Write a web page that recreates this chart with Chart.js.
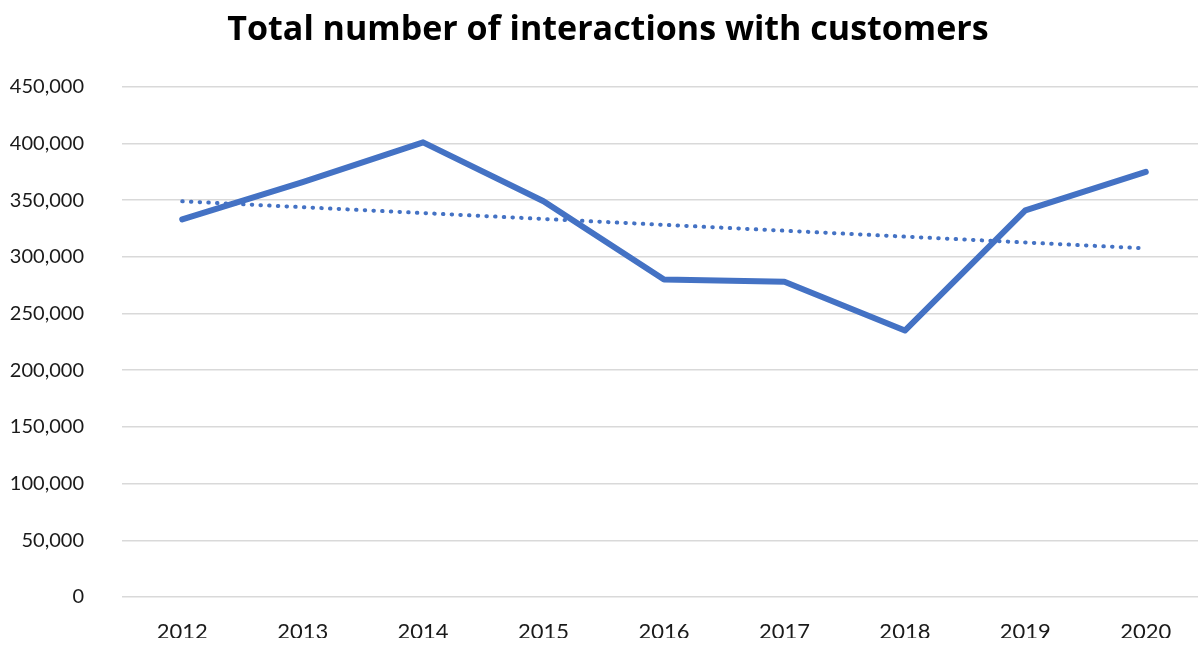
<!DOCTYPE html>
<html>
<head>
<meta charset="utf-8">
<script src="https://cdn.jsdelivr.net/npm/chart.js@4/dist/chart.umd.min.js"></script>
<style>
  html, body { margin: 0; padding: 0; background: #fff; overflow: hidden; }
  /* 원본처럼 마지막 카테고리 칸이 오른쪽 끝에서 조금 잘리도록 캔버스를 약간 넓게 */
  #wrap { width: 1206px; height: 647px; }
</style>
</head>
<body>
<div id="wrap"><canvas id="chart"></canvas></div>
<script>
// 연도
const years = ['2012', '2013', '2014', '2015', '2016', '2017', '2018', '2019', '2020'];
// 고객 상호작용 총 건수
const interactions = [333000, 366000, 401000, 349000, 280000, 278000, 235000, 341000, 375000];
// 추세선: 양 끝 값만 읽어서 직선으로 연결
const trend = [349000, null, null, null, null, null, null, null, 307500];

const blue = '#4472c4';
const ctx = document.getElementById('chart').getContext('2d');

new Chart(ctx, {
  type: 'line',
  data: {
    labels: years,
    datasets: [
      {
        label: 'Interactions',
        data: interactions,
        borderColor: blue,
        borderWidth: 6,
        pointRadius: 0,
        tension: 0,
        borderJoinStyle: 'round',
        borderCapStyle: 'round',
        fill: false,
      },
      {
        label: 'Trend',
        data: trend,
        spanGaps: true,
        borderColor: blue,
        borderWidth: 4,
        borderDash: [0.5, 8.2],
        borderCapStyle: 'round',
        pointRadius: 0,
        tension: 0,
        fill: false,
      }
    ]
  },
  options: {
    responsive: true,
    maintainAspectRatio: false,
    animation: false,
    layout: { padding: { left: 10, right: 0, top: 0, bottom: 2 } },
    plugins: {
      legend: { display: false },
      tooltip: { enabled: false },
      title: {
        display: true,
        text: 'Total number of interactions with customers',
        color: '#000',
        font: { family: 'Open Sans', size: 34, weight: 'bold', lineHeight: 1.2 },
        padding: { top: 10, bottom: 36 },
      }
    },
    scales: {
      x: {
        offset: true,
        grid: { display: false, drawTicks: false },
        border: { display: false },
        afterFit: s => { s.height = 41; },
        ticks: {
          color: '#1a1a1a',
          font: { family: 'Lato', size: 22 },
          padding: 22,
          maxRotation: 0,
        }
      },
      y: {
        min: 0,
        max: 450000,
        grid: { color: '#d9d9d9', lineWidth: 1.5, drawTicks: false },
        border: { display: false },
        afterFit: s => { s.width = 112; },
        ticks: {
          stepSize: 50000,
          color: '#1a1a1a',
          font: { family: 'Lato', size: 20 },
          padding: 38,
          callback: v => v.toLocaleString('en-US'), // 천 단위 콤마
        }
      }
    }
  }
});
</script>
</body>
</html>
